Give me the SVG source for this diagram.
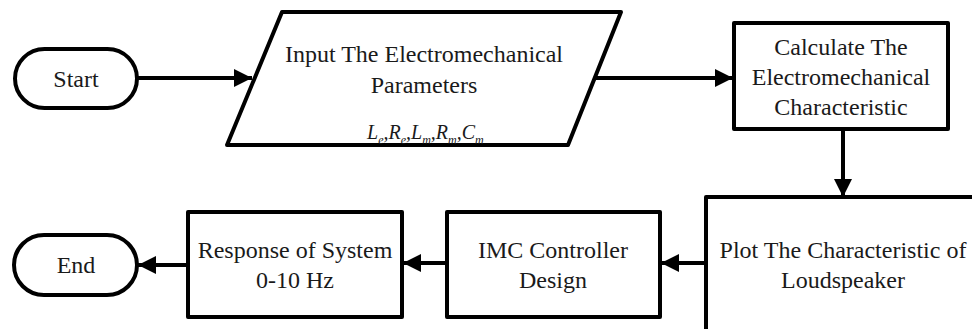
<svg xmlns="http://www.w3.org/2000/svg" width="972" height="329" viewBox="0 0 972 329">
<style>
.box{fill:#fff;stroke:#000;stroke-width:4;stroke-linejoin:round}
.conn{stroke:#000;stroke-width:4;fill:none}
text{font-family:"Liberation Serif",serif !important;fill:#1a1a1a}
.lbl{font-size:24px;text-anchor:middle}
</style>
<defs>
<marker id="ah" markerUnits="userSpaceOnUse" markerWidth="20" markerHeight="18" refX="18" refY="9" orient="auto">
<path d="M0,0 L18,9 L0,18 Z" fill="#000"/>
</marker>
</defs>
<rect width="972" height="329" fill="#fff"/>
<g id="connectors">
<line class="conn" x1="137" y1="78" x2="252" y2="78" marker-end="url(#ah)"/>
<line class="conn" x1="596" y1="78" x2="733" y2="78" marker-end="url(#ah)"/>
<line class="conn" x1="843" y1="129" x2="843" y2="197" marker-end="url(#ah)"/>
<line class="conn" x1="706" y1="263" x2="661" y2="263" marker-end="url(#ah)"/>
<line class="conn" x1="447" y1="263" x2="403" y2="263" marker-end="url(#ah)"/>
<line class="conn" x1="188" y1="265" x2="138" y2="265" marker-end="url(#ah)"/>
</g>
<g id="start">
<rect class="box" x="15" y="49" width="122" height="59" rx="29.5"/>
<text class="lbl" x="76" y="87" font-family="Liberation Serif">Start</text>
</g>
<g id="input">
<polygon class="box" points="282,12 621,12 568,145 227,145"/>
<text class="lbl" x="424" y="62" font-family="Liberation Serif">Input The Electromechanical</text>
<text class="lbl" x="424" y="93" font-family="Liberation Serif">Parameters</text>
<text x="367" y="139" font-family="Liberation Serif" font-style="italic" font-size="20">L<tspan font-size="12" dy="5">e</tspan><tspan dy="-5">,R</tspan><tspan font-size="12" dy="5">e</tspan><tspan dy="-5">,L</tspan><tspan font-size="12" dy="5">m</tspan><tspan dy="-5">,R</tspan><tspan font-size="12" dy="5">m</tspan><tspan dy="-5">,C</tspan><tspan font-size="12" dy="5">m</tspan></text>
</g>
<g id="calculate">
<rect class="box" x="734" y="23" width="214" height="106"/>
<text class="lbl" x="841" y="55" font-family="Liberation Serif">Calculate The</text>
<text class="lbl" x="841" y="85" font-family="Liberation Serif">Electromechanical</text>
<text class="lbl" x="841" y="115" font-family="Liberation Serif">Characteristic</text>
</g>
<g id="plot">
<rect class="box" x="706" y="197" width="280" height="150"/>
<text class="lbl" x="843" y="258" font-family="Liberation Serif">Plot The Characteristic of</text>
<text class="lbl" x="843" y="288" font-family="Liberation Serif">Loudspeaker</text>
</g>
<g id="imc">
<rect class="box" x="447" y="212" width="213" height="105"/>
<text class="lbl" x="553" y="258" font-family="Liberation Serif">IMC Controller</text>
<text class="lbl" x="553" y="288" font-family="Liberation Serif">Design</text>
</g>
<g id="response">
<rect class="box" x="188" y="212" width="214" height="105"/>
<text class="lbl" x="295" y="258" font-family="Liberation Serif">Response of System</text>
<text class="lbl" x="295" y="288" font-family="Liberation Serif">0-10 Hz</text>
</g>
<g id="end">
<rect class="box" x="14" y="235" width="123" height="60" rx="30"/>
<text class="lbl" x="76" y="273" font-family="Liberation Serif">End</text>
</g>
</svg>
